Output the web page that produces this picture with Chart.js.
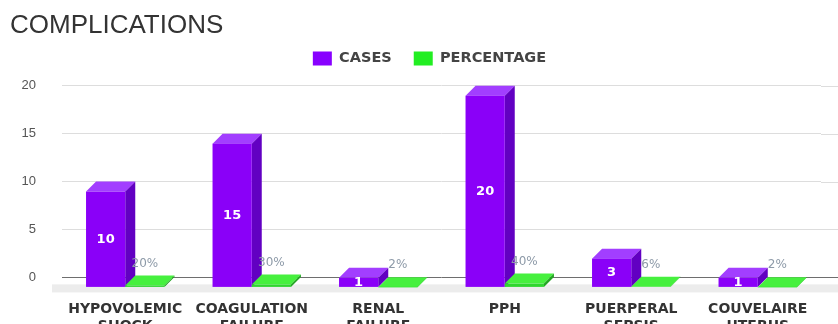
<!DOCTYPE html>
<html>
<head>
<meta charset="utf-8">
<script src="https://cdn.jsdelivr.net/npm/chart.js@4"></script>
<style>
  html, body { margin: 0; padding: 0; background: #ffffff; overflow: hidden; }
  #wrap { width: 838px; height: 324px; overflow: hidden; }
  canvas { display: block; }
</style>
</head>
<body>
<div id="wrap"><canvas id="chart" width="838" height="365"></canvas></div>
<script>
// Complications recorded in the study group
const CATEGORIES = [
  ['HYPOVOLEMIC', 'SHOCK'],
  ['COAGULATION', 'FAILURE'],
  ['RENAL', 'FAILURE'],
  'PPH',
  ['PUERPERAL', 'SEPSIS'],
  ['COUVELAIRE', 'UTERUS']
];
const CASES = [10, 15, 1, 20, 3, 1];
const PERCENTAGE = [0.20, 0.30, 0.02, 0.40, 0.06, 0.02];
const Y_TICKS = [0, 5, 10, 15, 20];

// depth of the extruded bars (px)
const DEPTH = 10;
const FACES = [
  { front: '#8a00f8', top: '#a23eff', side: '#6200c2', label: '#ffffff' },
  { front: '#2fd62f', top: '#46f03e', side: '#23a523', label: '#8d9aa8' }
];

// widen the legend box to the left so its items sit a little left of the plot centre
const legendOffset = {
  id: 'legendOffset',
  afterLayout(chart) {
    if (chart.legend) chart.legend.left -= 24;
  }
};

const bars3d = {
  id: 'bars3d',
  beforeDatasetsDraw(chart) {
    const { ctx, chartArea, scales } = chart;
    const yScale = scales.y;
    const y0 = yScale.getPixelForValue(0);

    ctx.save();
    // run the horizontal grid out to the right edge
    yScale.ticks.forEach(t => {
      const py = Math.round(yScale.getPixelForValue(t.value)) + 0.5;
      ctx.strokeStyle = t.value === 0 ? '#6e6e6e' : '#dddddd';
      ctx.lineWidth = 1;
      ctx.beginPath();
      ctx.moveTo(chartArea.right, py);
      ctx.lineTo(chart.width, py);
      ctx.stroke();
    });

    // front edge of the floor
    ctx.fillStyle = '#ececec';
    ctx.fillRect(chartArea.left - DEPTH, y0 + DEPTH - 3, chart.width, 8);

    const labels = [];
    chart.data.datasets.forEach((ds, i) => {
      const meta = chart.getDatasetMeta(i);
      const c = FACES[i];
      meta.data.forEach((el, j) => {
        const { x, y, base, width } = el.getProps(['x', 'y', 'base', 'width'], true);
        const fl = x - width / 2, fr = x + width / 2;
        const ft = y + DEPTH, fb = base + DEPTH;
        // top face
        ctx.fillStyle = c.top;
        ctx.beginPath();
        ctx.moveTo(fl, ft);
        ctx.lineTo(fr, ft);
        ctx.lineTo(fr + DEPTH, y);
        ctx.lineTo(fl + DEPTH, y);
        ctx.closePath();
        ctx.fill();
        // right side face
        ctx.fillStyle = c.side;
        ctx.beginPath();
        ctx.moveTo(fr, ft);
        ctx.lineTo(fr + DEPTH, y);
        ctx.lineTo(fr + DEPTH, base);
        ctx.lineTo(fr, fb);
        ctx.closePath();
        ctx.fill();
        // front face
        ctx.fillStyle = c.front;
        ctx.fillRect(fl, ft, width, fb - ft);

        const v = ds.data[j];
        if (i === 0) {
          labels.push({ text: String(v), x: x, y: (ft + fb) / 2, color: c.label, font: 'bold 13px "DejaVu Sans"' });
        } else {
          labels.push({ text: Math.round(v * 100) + '%', x: x, y: y - 12, color: c.label, font: '12px "DejaVu Sans"' });
        }
      });
    });

    ctx.textAlign = 'center';
    ctx.textBaseline = 'middle';
    labels.forEach(l => {
      ctx.font = l.font;
      ctx.fillStyle = l.color;
      ctx.fillText(l.text, l.x, l.y);
    });
    ctx.restore();
    return false;
  }
};

Chart.defaults.font.family = '"DejaVu Sans", sans-serif';

new Chart(document.getElementById('chart'), {
  type: 'bar',
  data: {
    labels: CATEGORIES,
    datasets: [
      { label: 'CASES', data: CASES, backgroundColor: '#8800ff', borderWidth: 0 },
      { label: 'PERCENTAGE', data: PERCENTAGE, backgroundColor: '#22ee22', borderWidth: 0 }
    ]
  },
  options: {
    responsive: false,
    animation: false,
    devicePixelRatio: 1,
    categoryPercentage: 0.62,
    barPercentage: 1.0,
    layout: { padding: { left: 10, right: 17, top: 0, bottom: 6 } },
    plugins: {
      title: {
        display: true,
        text: 'COMPLICATIONS',
        align: 'start',
        color: '#333333',
        font: { family: '"Liberation Sans", Arial, sans-serif', size: 26, weight: 'normal', lineHeight: 1.2 },
        padding: { top: 10, bottom: -12 }
      },
      subtitle: {
        display: true,
        text: '',
        weight: 500,
        font: { size: 10, lineHeight: 1 },
        padding: 0
      },
      legend: {
        display: true,
        position: 'top',
        fullSize: false,
        labels: {
          color: '#444444',
          font: { family: '"DejaVu Sans", sans-serif', size: 14.5, weight: 'bold' },
          boxWidth: 19,
          boxHeight: 14,
          padding: 22
        }
      },
      tooltip: { enabled: false }
    },
    scales: {
      x: {
        grid: { display: false, drawTicks: false },
        border: { display: false },
        ticks: {
          color: '#333333',
          padding: 24,
          maxRotation: 0,
          autoSkip: false,
          font: { family: '"DejaVu Sans", sans-serif', size: 14, weight: 'bold', lineHeight: 1.2 }
        }
      },
      y: {
        min: 0,
        max: 20,
        afterBuildTicks(scale) { scale.ticks = Y_TICKS.map(v => ({ value: v })); },
        afterFit(scale) { scale.width = 52; },
        grid: {
          drawTicks: false,
          color: ctx => (ctx.tick && ctx.tick.value === 0) ? '#6e6e6e' : '#dddddd',
          lineWidth: 1
        },
        border: { display: false },
        ticks: {
          color: '#555555',
          padding: 26,
          font: { family: '"Liberation Sans", Arial, sans-serif', size: 13 }
        }
      }
    }
  },
  plugins: [legendOffset, bars3d]
});
</script>
</body>
</html>
